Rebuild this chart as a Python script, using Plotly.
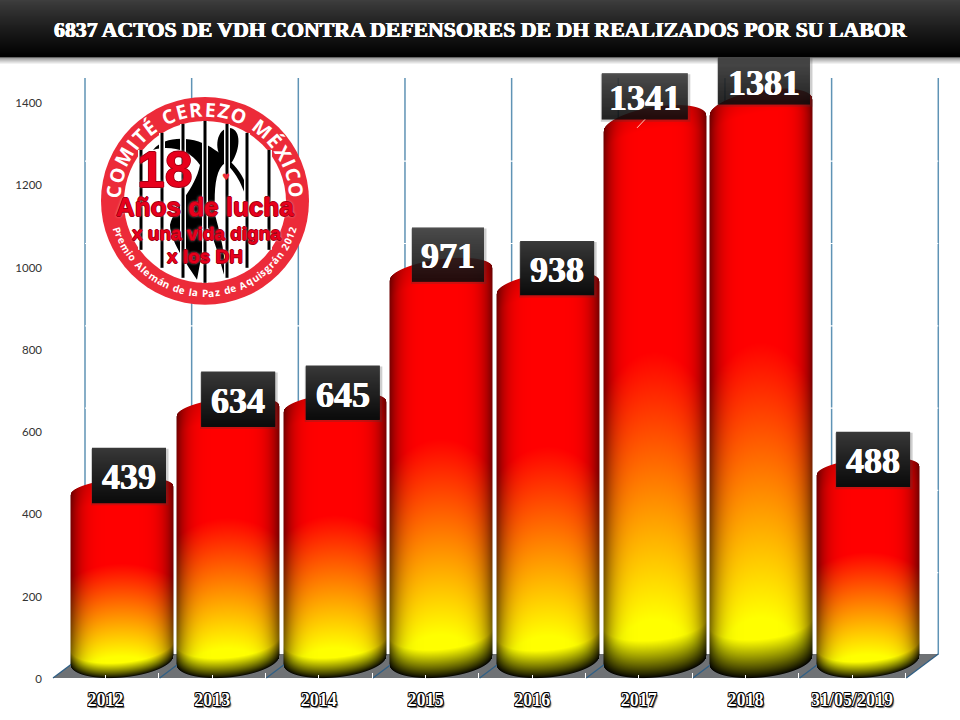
import math
import numpy as np
import plotly.graph_objects as go

# ---------- data ----------
categories = ["2012", "2013", "2014", "2015", "2016", "2017", "2018", "31/05/2019"]
values = [439, 634, 645, 971, 938, 1341, 1381, 488]
y_ticks = [0, 200, 400, 600, 800, 1000, 1200, 1400]
title_text = "6837 ACTOS DE VDH CONTRA DEFENSORES DE DH REALIZADOS POR SU LABOR"

# ---------- layout constants (styling only) ----------
W, H = 960, 720
L_M = 46
Y0_PX = 679.5
PX_PER_UNIT = 0.4118
STEP = 106.66
X0_PX = 105.5
BAR_SHIFT = 0.15
HALF = 51.5

label_dx = [7.5, 10, 8, 6.5, 9, -10, 2.5, 5]
label_up = [23, 19, 21, 25, 25, 31, 30, 19]
label_w = [74, 74, 74, 72, 74, 86, 92, 74]
label_h = [55, 55, 54, 54, 54, 46, 47, 55]


def px(x):
    return (x - L_M) / (W - L_M)


def py(y):
    return (Y0_PX - y) / Y0_PX


def cylinder(v):
    """RGBA raster of one shaded cylinder whose size follows the value v."""
    top = Y0_PX - PX_PER_UNIT * v - 20
    rows = np.arange(math.floor(top) - 10, 681)[::-1]
    cols = np.arange(-HALF - 1, HALF + 2)
    X, Y = np.meshgrid(cols, rows)
    u = np.clip(X / HALF, -1, 1)
    s = np.sqrt(1 - u ** 2)
    ry_t = 10 + 5 * v / 1000
    tilt_t = 2.5 + 4 * v / 1000
    top_curve = top + ry_t - ry_t * s - tilt_t * u
    bot_curve = 660.5 + 17.5 * s - 4.5 * u
    height = 677 - top
    t = (Y - top) / height - 0.07 * u ** 2
    g = np.clip((t - 0.43) / 0.47, 0, 1)
    band = 0.06 * height + 3
    d_bot = np.clip((bot_curve - Y) / band, 0, 1) ** 0.85
    d_top = np.clip((Y - top_curve) / 22, 0, 1)
    edge = 1 - 0.55 * np.abs(u) ** 5
    f = edge * d_bot * (0.88 + 0.12 * d_top)
    r = 255 * f
    gg = 255 * g * f
    alpha = np.clip(Y - top_curve + 0.5, 0, 1) * np.clip(bot_curve - Y + 0.5, 0, 1)
    alpha = alpha * np.clip(HALF + 0.5 - np.abs(X), 0, 1)
    rgba = np.stack([r, gg, np.zeros_like(r), alpha * 255], axis=-1)
    return np.round(rgba).astype(int), cols, rows


fig = go.Figure()

for i, v in enumerate(values):
    rgba, cols, rows = cylinder(v)
    fig.add_trace(go.Image(
        z=rgba.tolist(), colormodel="rgba", zmin=[0, 0, 0, 0], zmax=[255, 255, 255, 255],
        x0=i + BAR_SHIFT + cols[0] / STEP, dx=1 / STEP,
        y0=(Y0_PX - rows[0]) / PX_PER_UNIT, dy=1 / PX_PER_UNIT,
        hoverinfo="skip",
    ))

# data-bearing bars: clear fill over the shaded cylinders, they carry the values and hover
fig.add_trace(go.Bar(
    x=[i + BAR_SHIFT for i in range(len(values))], y=values, width=0.95,
    customdata=categories, hovertemplate="%{customdata}: %{y}<extra></extra>",
    marker=dict(color="rgba(255,0,0,0)", line=dict(width=0)), showlegend=False,
))

shapes = []
ann = []

# ---------- floor and back wall ----------
DX, DY = 32, -24
front_x = [53 + STEP * k for k in range(9)]
shapes.append(dict(
    type="path", xref="paper", yref="paper", layer="below", line=dict(width=0), fillcolor="#6f7275",
    path="M{},{} L{},{} L{},{} L{},{} Z".format(
        px(front_x[0]), py(678.5), px(front_x[0] + DX), py(678.5 + DY),
        px(front_x[-1] + DX), py(678.5 + DY), px(front_x[-1]), py(678.5)),
))
for fx in front_x:
    shapes.append(dict(type="line", xref="paper", yref="paper", layer="below",
                       x0=px(fx + DX), x1=px(fx + DX), y0=py(78), y1=py(655),
                       line=dict(color="#5f93b5", width=1.5)))
    shapes.append(dict(type="line", xref="paper", yref="paper", layer="below",
                       x0=px(fx), x1=px(fx + DX), y0=py(678.5), y1=py(654.5),
                       line=dict(color="#2f5f85", width=1.3)))
for tv in y_ticks[1:-1]:
    yy = Y0_PX - tv * PX_PER_UNIT + DY
    shapes.append(dict(type="line", xref="paper", yref="paper", layer="below",
                       x0=px(53 + DX), x1=px(front_x[-1] + DX), y0=py(yy), y1=py(yy),
                       line=dict(color="#ffffff", width=1.2)))

# ---------- header band ----------
for k in range(57):
    f = k / 56
    c = int(62 - 62 * f ** 0.9)
    shapes.append(dict(type="rect", xref="paper", yref="paper", layer="above",
                       x0=px(0), x1=px(960), y0=py(k), y1=py(k + 1.3),
                       line=dict(width=0), fillcolor=f"rgb({c},{c},{c})"))
for k in range(8):
    c = int(135 + 120 * (k / 7) ** 0.8)
    shapes.insert(0, dict(type="rect", xref="paper", yref="paper", layer="above",
                          x0=px(0), x1=px(960), y0=py(57 + k), y1=py(58 + k),
                          line=dict(width=0), fillcolor=f"rgb({c},{c},{c})"))
ann.append(dict(text=title_text, xref="paper", yref="paper", x=px(480), y=py(30.5),
                showarrow=False, xanchor="center", yanchor="middle",
                font=dict(family="Liberation Serif", size=21.8, color="white", weight=700,
                          shadow="0.5px 0 0 #fff, -0.5px 0 0 #fff, 0 0.4px 0 #fff")))

# ---------- value label boxes ----------
for i, v in enumerate(values):
    cx = i + BAR_SHIFT
    l, r = label_dx[i] - label_w[i] / 2, label_dx[i] + label_w[i] / 2
    b, t = label_up[i] - label_h[i] / 2, label_up[i] + label_h[i] / 2
    base = dict(type="rect", xref="x", yref="y", xsizemode="pixel", ysizemode="pixel",
                xanchor=cx, yanchor=v, layer="above", line=dict(width=0))
    shapes.append(dict(base, x0=l - 1, x1=r + 2.5, y0=b - 2.5, y1=t - 1,
                       fillcolor="rgba(60,60,60,0.25)"))
    n = int(label_h[i])
    for k in range(n):
        c = int(58 - 46 * (k / (n - 1)) ** 0.9)
        shapes.append(dict(base, x0=l, x1=r, y0=t - k - 1.3, y1=t - k,
                           fillcolor=f"rgb({c},{c},{c})"))
    ann.append(dict(text=str(v), xref="x", yref="y", x=cx, y=v,
                    xshift=label_dx[i], yshift=label_up[i] - 2, showarrow=False,
                    xanchor="center", yanchor="middle",
                    font=dict(family="Liberation Serif", size=36, color="white", weight=700,
                              shadow="0.6px 0 0 #fff, -0.6px 0 0 #fff")))

# small leader line at the 1341 label
shapes.append(dict(type="line", xref="paper", yref="paper", layer="above",
                   x0=px(637), x1=px(645), y0=py(128), y1=py(119.5),
                   line=dict(color="#ffd0c0", width=1)))

# ---------- logo ----------
LOGO_X, LOGO_Y = 205, 201
RED = "#ec2b39"


def circ(x, y, r, fill, line=None):
    return dict(type="circle", xref="paper", yref="paper", layer="above",
                x0=px(x - r), x1=px(x + r), y0=py(y + r), y1=py(y - r),
                fillcolor=fill, line=dict(width=0))


def pth(d, fill):
    out = []
    toks = d.split()
    for tok in toks:
        if tok[0] in "MCLZ":
            out.append(tok[0])
            tok = tok[1:]
        if tok:
            a, b = tok.split(",")
            out.append(f"{px(float(a)):.5f},{py(float(b)):.5f}")
    return dict(type="path", xref="paper", yref="paper", layer="above",
                path=" ".join(out), fillcolor=fill, line=dict(width=0))


shapes.append(circ(LOGO_X, LOGO_Y, 104, RED))
shapes.append(circ(LOGO_X, 202, 81, "#ffffff"))
# figure
shapes.append(pth("M153,150 C165,135 195,135 215,150 C235,162 250,180 249,205 "
                  "C245,195 240,175 225,163 C215,170 214,190 215,215 C222,240 226,260 225,278 "
                  "C220,262 215,240 208,228 C204,245 200,262 197,280 C185,262 170,240 170,225 "
                  "C175,205 195,190 200,165 C190,150 170,145 153,150 Z", "#000000"))
shapes.append(pth("M222,158 C214,150 216,128 230,128 C242,130 240,150 232,162 C228,166 224,162 222,158 Z",
                  "#000000"))
# prison bars
for bx, y_a, y_b in [(141, 150, 250), (162, 133, 268), (183, 124, 278), (205, 121, 283),
                     (227, 124, 278), (247, 133, 268), (269, 150, 250)]:
    shapes.append(dict(type="rect", xref="paper", yref="paper", layer="above",
                       x0=px(bx - 3), x1=px(bx + 3), y0=py(y_b), y1=py(y_a),
                       fillcolor="#ffffff", line=dict(width=0)))
    shapes.append(dict(type="rect", xref="paper", yref="paper", layer="above",
                       x0=px(bx - 1.5), x1=px(bx + 1.5), y0=py(y_b), y1=py(y_a),
                       fillcolor="#000000", line=dict(width=0)))

CHAR_W = {"I": .36, "É": .6, "E": .6, "C": .68, "O": .8, "M": .95, "T": .6, "R": .68, "Z": .6,
          "X": .68, "Ó": .8, " ": .3, "i": .3, "l": .3, "m": .95, "r": .45, "t": .4, "á": .58,
          "a": .58, "n": .65, "e": .6, "d": .64, "P": .66, "A": .72, "q": .64, "u": .65,
          "s": .5, "g": .62, "z": .52, "o": .64, "2": .6, "0": .6, "1": .6}


def arc_text(text, r, a0, a1, size, up):
    ws = [CHAR_W.get(c, .6) for c in text]
    tot = sum(ws)
    pos = 0
    for c, w in zip(text, ws):
        a = math.radians(a0 + (a1 - a0) * (pos + w / 2) / tot)
        pos += w
        xx = LOGO_X + r * math.cos(a)
        yy = LOGO_Y + r * math.sin(a)
        rot = math.degrees(a) - (270 if up else 90)
        if c == " ":
            continue
        ann.append(dict(text=c, xref="paper", yref="paper", x=px(xx), y=py(yy), showarrow=False,
                        xanchor="center", yanchor="middle", textangle=rot,
                        font=dict(family="Open Sans", size=size, color="white", weight=700)))


arc_text("COMITÉ CEREZO MÉXICO", 92, 181, 359, 19.5, True)
arc_text("Premio Alemán de la Paz de Aquisgrán 2012", 92, 164, 16, 10, False)

RED_SH = ("0.8px 0 0 #a00014, -0.8px 0 0 #a00014, 0 0.8px 0 #a00014, 0 -0.8px 0 #a00014, "
          "0 0 3px #ffffff")
for txt, x_, y_, s_, fam in [("18", 165, 170, 50, "Liberation Sans"),
                             ("Años de lucha", 205, 207, 26, "Liberation Sans"),
                             ("x una vida digna", 206, 234, 19, "Liberation Sans"),
                             ("x los DH", 205, 257, 19, "Liberation Sans")]:
    ann.append(dict(text=txt, xref="paper", yref="paper", x=px(x_), y=py(y_), showarrow=False,
                    xanchor="center", yanchor="middle",
                    font=dict(family=fam, size=s_, color="#e8001c", weight=700, shadow=RED_SH)))
ann.append(dict(text="♥", xref="paper", yref="paper", x=px(220), y=py(170), showarrow=False,
                font=dict(family="DejaVu Sans", size=9, color=RED)))

OUTLINE = ("0.7px 0 0 #000, -0.7px 0 0 #000, 0 0.7px 0 #000, 0 -0.7px 0 #000, 0.7px 0.7px 0 #000, "
           "-0.7px -0.7px 0 #000, 0.7px -0.7px 0 #000, -0.7px 0.7px 0 #000, 1.5px 1.5px 1px #555")

fig.update_layout(
    width=W, height=H, margin=dict(l=L_M, r=0, t=0, b=H - Y0_PX, pad=0),
    paper_bgcolor="white", plot_bgcolor="rgba(0,0,0,0)", showlegend=False,
    shapes=shapes, annotations=ann, bargap=0,
    xaxis=dict(
        range=[(L_M - X0_PX) / STEP, (W - X0_PX) / STEP], tickmode="array", scaleanchor=False,
        tickvals=list(range(len(categories))), ticktext=categories, showgrid=False, zeroline=False,
        showline=False, ticks="inside", ticklen=4, tickcolor="white", tickwidth=1,
        minor=dict(tickmode="array", tickvals=[k + 0.5 for k in range(8)], ticks="inside",
                   ticklen=6, tickcolor="white", tickwidth=1),
        ticklabelstandoff=8, automargin=False,
        tickfont=dict(family="Liberation Serif", size=18, color="white", weight=700, shadow=OUTLINE),
    ),
    yaxis=dict(
        range=[0, Y0_PX / PX_PER_UNIT], tickmode="array", tickvals=y_ticks, scaleanchor=False,
        ticktext=[str(t) for t in y_ticks], showgrid=False, zeroline=False, showline=False,
        ticks="", ticklabelstandoff=3, automargin=False,
        tickfont=dict(family="Lato", size=11.5, color="#333333", weight=400),
    ),
)

fig.write_html("out.html", config=dict(displayModeBar=False),
               post_script="document.body.style.margin='0';")
